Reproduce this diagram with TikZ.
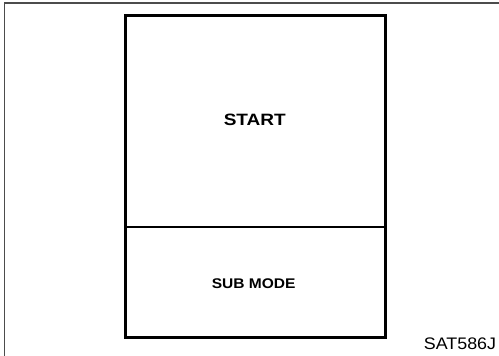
\documentclass[tikz,border=0pt]{standalone}
\usepackage{fontspec}
\setmainfont{Liberation Sans}
\begin{document}
\begin{tikzpicture}[x=1pt,y=-1pt,
  frame/.style={draw=black!70,line width=1.4pt},
  box/.style={draw=black,line width=3pt},
  divider/.style={draw=black,line width=1.1pt},
  lbl/.style={inner sep=0pt,anchor=center}]
\useasboundingbox (0,0) rectangle (499,356);
\fill[white] (0,0) rectangle (499,356);
\coordinate (fa) at (4.3,360);
\coordinate (fb) at (4.3,3);
\coordinate (fc) at (503,3);
\draw[frame] (fa) -- (fb) -- (fc);
\node[box,minimum width=260pt,minimum height=322.5pt,inner sep=0pt] (outer) at (255,176.25) {};
\coordinate (dl) at (125,227);
\coordinate (dr) at (385,227);
\draw[divider] (dl) -- (dr);
\node[lbl] (start) at (254.8,119.9) {\scalebox{1.16}[1]{\fontsize{16.4}{18}\selectfont\bfseries START}};
\node[lbl] (sub) at (253.7,283.3) {\scalebox{1.11}[1]{\fontsize{14}{16}\selectfont\bfseries SUB MODE}};
\node[lbl] (code) at (460,343.3) {\scalebox{1.07}[1]{\fontsize{16.7}{18}\selectfont SAT586J}};
\end{tikzpicture}
\end{document}
